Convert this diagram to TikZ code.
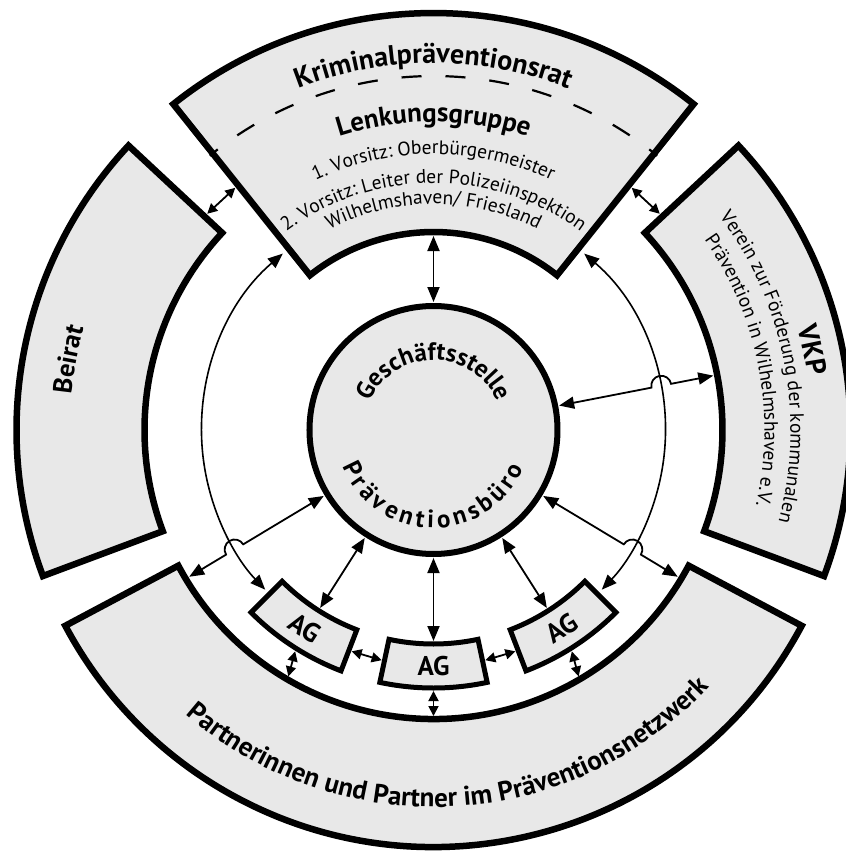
\documentclass[tikz,border=0pt]{standalone}
\usepackage{fontspec}
\setmainfont{PT Sans}
\usetikzlibrary{arrows.meta, decorations.text}
\definecolor{segfill}{gray}{0.91}
\newcommand\BoldTxt{\fontsize{28pt}{30pt}\selectfont\bfseries}
\newcommand\LenkTxt{\fontsize{27pt}{30pt}\selectfont\bfseries}
\newcommand\SideTxt{\fontsize{26.5pt}{30pt}\selectfont\bfseries}
\newcommand\VkpTxt{\fontsize{28pt}{30pt}\selectfont\bfseries}
\newcommand\PartTxt{\fontsize{27pt}{30pt}\selectfont\bfseries}
\newcommand\RegTxt{\fontsize{19.5pt}{22pt}\selectfont}
\newcommand\CircTxt{\fontsize{25pt}{28pt}\selectfont\bfseries}
\newcommand\AGTxt{\fontsize{27pt}{29pt}\selectfont\bfseries}
\begin{document}
\begin{tikzpicture}[x=1pt, y=1pt,
  seg/.style={draw=black, line width=6.5pt, fill=segfill, line join=miter},
  agbox/.style={draw=black, line width=5pt, fill=segfill, line join=miter},
  conn/.style={line width=1.8pt, {Triangle[length=15pt,width=12pt]}-{Triangle[length=15pt,width=12pt]}},
  shortarr/.style={line width=1.8pt, {Triangle[length=10pt,width=10pt]}-{Triangle[length=10pt,width=10pt]}},
]

% outer ring segments
\draw[seg] (51.4:198) arc[start angle=51.4, end angle=128.6, radius=198] -- (128.6:417) arc[start angle=128.6, end angle=51.4, radius=417] -- cycle;
\draw[seg] (137:289) arc[start angle=137, end angle=200.5, radius=289] -- (200.5:417) arc[start angle=200.5, end angle=137, radius=417] -- cycle;
\draw[seg] (-20.5:289) arc[start angle=-20.5, end angle=43, radius=289] -- (43:417) arc[start angle=43, end angle=-20.5, radius=417] -- cycle;
\draw[seg] (208:289) arc[start angle=208, end angle=332, radius=289] -- (332:417) arc[start angle=332, end angle=208, radius=417] -- cycle;

% dashed separator
\draw[line width=2.2pt, dash pattern=on 20pt off 24pt, dash phase=9.8pt] (129.2:354) arc[start angle=129.2, end angle=50.8, radius=354];

% texts in top segment
\path[decorate, decoration={text along path, text align=center, text={|\BoldTxt|Kriminalpräventionsrat}}] (128:367) arc[start angle=128, end angle=52, radius=367];
\path[decorate, decoration={text along path, text align=center, text={|\LenkTxt|Lenkungsgruppe}}] (128:308) arc[start angle=128, end angle=52, radius=308];
\path[decorate, decoration={text along path, text align=center, text={|\RegTxt|1. Vorsitz: Oberbürgermeister}}] (130:276) arc[start angle=130, end angle=50, radius=276];
\path[decorate, decoration={text along path, text align=center, text={|\RegTxt|2. Vorsitz: Leiter der Polizeiinspektion}}] (134:247) arc[start angle=134, end angle=46, radius=247];
\path[decorate, decoration={text along path, text align=center, text={|\RegTxt|Wilhelmshaven/ Friesland}}] (132:226) arc[start angle=132, end angle=48, radius=226];

% side texts
\path[decorate, decoration={text along path, text align=center, text={|\SideTxt|Beirat}}] (185:364) arc[start angle=185, end angle=153, radius=364];
\path[decorate, decoration={text along path, text align=center, text={|\VkpTxt|VKP}}] (31:378) arc[start angle=31, end angle=-7, radius=378];
\path[decorate, decoration={text along path, text align=center, text={|\RegTxt|Verein zur Förderung der kommunalen}}] (44:357) arc[start angle=44, end angle=-22, radius=357];
\path[decorate, decoration={text along path, text align=center, text={|\RegTxt|Prävention in Wilhelmshaven e.V.}}] (44:331) arc[start angle=44, end angle=-22, radius=331];
\path[decorate, decoration={text along path, text align=center, text={|\PartTxt|Partnerinnen und Partner im Präventionsnetzwerk}}] (211:377) arc[start angle=211, end angle=335, radius=377];

% central circle
\node[circle, draw=black, line width=6pt, fill=segfill, minimum size=248pt, inner sep=0pt] (gs) at (0,0) {};
\path[decorate, decoration={text along path, text align=center, text={|\CircTxt|Geschäftsstelle}}] (170:70) arc[start angle=170, end angle=10, radius=70];
\path[decorate, decoration={text along path, text align={fit to path}, text={|\CircTxt|Präventionsbüro}}] (202:98) arc[start angle=202, end angle=337, radius=98];

% AG boxes
\draw[agbox] (225:214) arc[start angle=225, end angle=249, radius=214] -- (249:258) arc[start angle=249, end angle=225, radius=258] -- cycle;
\draw[agbox] (258:214) arc[start angle=258, end angle=282, radius=214] -- (282:258) arc[start angle=282, end angle=258, radius=258] -- cycle;
\draw[agbox] (291:214) arc[start angle=291, end angle=315, radius=214] -- (315:258) arc[start angle=315, end angle=291, radius=258] -- cycle;
\node[rotate=-33, font=\AGTxt] (agL) at (237:236) {AG};
\node[font=\AGTxt] (agM) at (270:236) {AG};
\node[rotate=33, font=\AGTxt] (agR) at (303:236) {AG};

% connector end points
\coordinate (cT) at (90:128);   \coordinate (kT) at (90:194);
\coordinate (cB) at (270:128);  \coordinate (aM) at (270:211);
\coordinate (cL) at (237.5:128); \coordinate (aL) at (237.5:211);
\coordinate (cR) at (302.5:128); \coordinate (aR) at (302.5:211);
\coordinate (cV) at (11:128);   \coordinate (jV) at (11:222); \coordinate (vV) at (11:285);
\coordinate (cPL) at (211:128); \coordinate (jPL) at (211:222); \coordinate (pL) at (211:285);
\coordinate (cPR) at (329:128); \coordinate (jPR) at (329:222); \coordinate (pR) at (329:285);

% connectors from the circle
\draw[conn] (cT) -- (kT);
\draw[conn] (cB) -- (aM);
\draw[conn] (cL) -- (aL);
\draw[conn] (cR) -- (aR);
\draw[conn] (cV) -- (jV) arc[start angle=191, end angle=11, radius=10] -- (vV);
\draw[conn] (cPL) -- (jPL) arc[start angle=31, end angle=211, radius=10] -- (pL);
\draw[conn] (cPR) -- (jPR) arc[start angle=149, end angle=-31, radius=10] -- (pR);

% long thin arcs
\coordinate (tl1) at (130.5:232); \coordinate (tr1) at (49.5:232);
\draw[conn, line width=1.6pt] (tl1) arc[start angle=130.5, end angle=223.5, radius=232];
\draw[conn, line width=1.6pt] (tr1) arc[start angle=49.5, end angle=-43.5, radius=232];

% short double arrows
\coordinate (b1) at (136.3:313); \coordinate (b2) at (129.3:313);
\coordinate (v1) at (43.7:313);  \coordinate (v2) at (50.7:313);
\draw[shortarr] (b1) -- (b2);
\draw[shortarr] (v1) -- (v2);
\coordinate (g1) at (249.7:236); \coordinate (g2) at (257.3:236);
\coordinate (g3) at (282.7:236); \coordinate (g4) at (290.3:236);
\draw[shortarr] (g1) -- (g2);
\draw[shortarr] (g3) -- (g4);
\coordinate (r1) at (270:261); \coordinate (r2) at (270:286);
\coordinate (r3) at (238:261); \coordinate (r4) at (239.5:286);
\coordinate (r5) at (302:261); \coordinate (r6) at (300.5:286);
\draw[shortarr] (r1) -- (r2);
\draw[shortarr] (r3) -- (r4);
\draw[shortarr] (r5) -- (r6);

% fix the page to the reference frame
\pgfresetboundingbox
\useasboundingbox (-433.5,-422) rectangle (412.5,430);
\end{tikzpicture}
\end{document}
